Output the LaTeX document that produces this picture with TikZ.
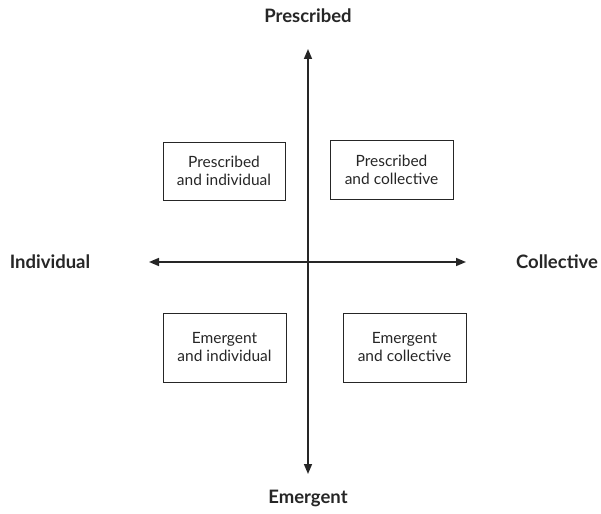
\documentclass[tikz,border=0pt]{standalone}
\usepackage{fontspec}
\setmainfont{Lato}
\usetikzlibrary{arrows.meta}
\begin{document}
\begin{tikzpicture}[x=1pt,y=-1pt,
  quad/.style={draw=black!85,line width=0.8pt,rectangle,inner sep=0pt,align=center,font=\fontsize{15.5}{18}\selectfont,text=black!85},
  axislabel/.style={font=\bfseries\fontsize{18.5}{20}\selectfont,text=black!85},
  axis/.style={line width=1.6pt,draw=black!85,{Triangle[length=10pt,width=8pt]}-{Triangle[length=10pt,width=8pt]}}]
\useasboundingbox (0,0) rectangle (601,513);
\coordinate (top) at (308,49);
\coordinate (bot) at (308,474);
\coordinate (lft) at (149,262);
\coordinate (rgt) at (466,262);
\draw[axis] (bot) -- (top);
\draw[axis] (lft) -- (rgt);
\node[axislabel] (lp) at (308,16) {Prescribed};
\node[axislabel] (le) at (308,498) {Emergent};
\node[axislabel] (li) at (50,262) {Individual};
\node[axislabel] (lc) at (557,262) {Collective};
\node[quad,minimum width=122pt,minimum height=58pt] (pi) at (224,171) {Prescribed\\and individual};
\node[quad,minimum width=123pt,minimum height=59pt] (pc) at (391.5,169.5) {Prescribed\\and collective};
\node[quad,minimum width=123pt,minimum height=69pt] (ei) at (224.5,347.5) {Emergent\\and individual};
\node[quad,minimum width=123pt,minimum height=69pt] (ec) at (404.5,347.5) {Emergent\\and collective};
\end{tikzpicture}
\end{document}
